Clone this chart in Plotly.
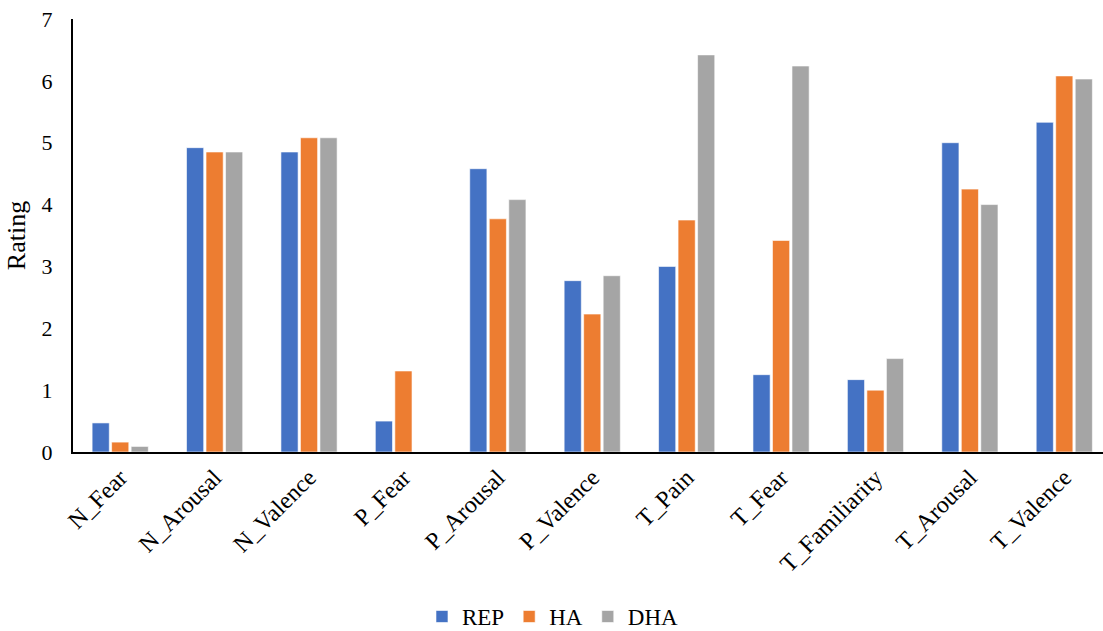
import plotly.graph_objects as go

categories = ["N_Fear", "N_Arousal", "N_Valence", "P_Fear", "P_Arousal", "P_Valence",
              "T_Pain", "T_Fear", "T_Familiarity", "T_Arousal", "T_Valence"]
rep = [0.47, 4.92, 4.85, 0.50, 4.58, 2.77, 3.00, 1.25, 1.17, 5.00, 5.33]
ha = [0.16, 4.85, 5.08, 1.31, 3.77, 2.23, 3.75, 3.42, 1.00, 4.25, 6.08]
dha = [0.09, 4.85, 5.08, 0.00, 4.08, 2.85, 6.42, 6.24, 1.51, 4.00, 6.03]

series = [("REP", rep, "#4472C4"), ("HA", ha, "#ED7D31"), ("DHA", dha, "#A5A5A5")]

font_family = "Liberation Serif"

fig = go.Figure()
for name, vals, color in series:
    fig.add_trace(go.Bar(
        name=name, x=categories, y=vals,
        marker=dict(color=color, line=dict(color="white", width=0.6)),
    ))

fig.update_layout(
    width=1103, height=631,
    margin=dict(l=73, r=0, t=19, b=179, autoexpand=False),
    paper_bgcolor="white", plot_bgcolor="white",
    barmode="group", bargap=0.38, bargroupgap=0.12,
    font=dict(family=font_family, size=22, color="#000000"),
    showlegend=True,
    legend=dict(orientation="h", x=0.466, xanchor="center", y=-0.38, yanchor="middle",
                font=dict(family=font_family, size=23), itemwidth=30, traceorder="normal"),
)
fig.update_xaxes(
    type="category", range=[-0.5, 10.41], automargin=False,
    showline=True, linecolor="#000000", linewidth=2,
    showgrid=False, ticks="", tickangle=-45,
    tickfont=dict(family=font_family, size=24), ticklabelstandoff=0,
)
fig.update_yaxes(
    range=[0, 7], dtick=1, automargin=False,
    showline=True, linecolor="#000000", linewidth=2,
    showgrid=False, ticks="", zeroline=False,
    tickfont=dict(family=font_family, size=22), ticklabelstandoff=14,
    title=dict(text="Rating", font=dict(family=font_family, size=26), standoff=8),
)

fig.write_html("out.html")
